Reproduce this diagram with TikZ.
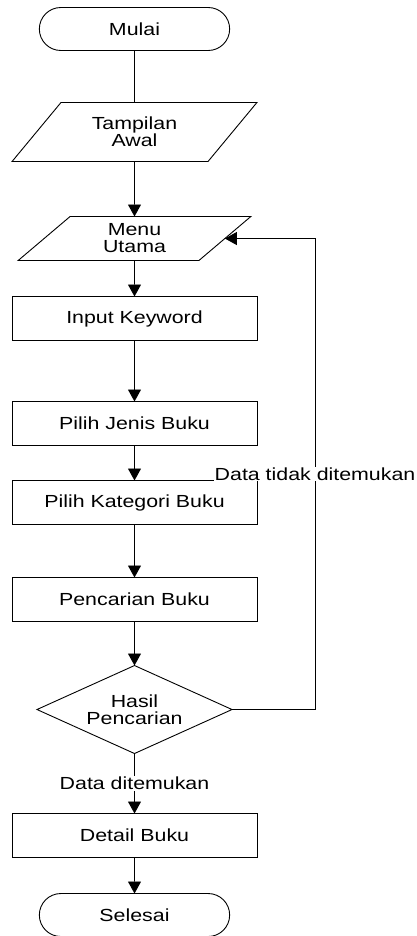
\documentclass[tikz,border=0pt]{standalone}
\usepackage{fontspec}
\setmainfont{Liberation Sans}[FakeStretch=1.22]
\usetikzlibrary{positioning, shapes.geometric, shapes.misc, arrows.meta}

\begin{document}
\begin{tikzpicture}[x=1pt, y=1pt, line width=0.9pt,
    font=\fontsize{17.5}{17}\selectfont,
    prosesbox/.style={rectangle, draw, align=center, outer sep=0pt, minimum width=245pt, minimum height=44pt},
    termbox/.style={rounded rectangle, draw, align=center, outer sep=0pt, minimum width=197pt, minimum height=43pt},
    iobox/.style={trapezium, draw, align=center, outer sep=0pt, trapezium stretches=true},
    decbox/.style={diamond, draw, align=center, outer sep=0pt, aspect=2.2, inner sep=1pt, minimum width=195pt, minimum height=88pt},
    lbl/.style={fill=white, inner sep=1pt},
    arr/.style={-{Triangle[length=12pt,width=13pt]}}]
        \useasboundingbox (0,0) rectangle (417,-936);

        \node[termbox] (mulai) at (134.5,-29) {Mulai};
        \node[below=52pt of mulai, iobox, minimum width=245pt, minimum height=59pt,
              trapezium left angle=50, trapezium right angle=130] (tampilan) {Tampilan\\Awal};
        \node[below=55pt of tampilan, iobox, minimum width=233pt, minimum height=44pt,
              trapezium left angle=52, trapezium right angle=128] (menu) {Menu\\Utama};
        \node[below=36pt of menu, prosesbox] (input) {Input Keyword};
        \node[below=61pt of input, prosesbox] (jenis) {Pilih Jenis Buku};
        \node[below=35pt of jenis, prosesbox] (kategori) {Pilih Kategori Buku};
        \node[below=53pt of kategori, prosesbox] (cari) {Pencarian Buku};
        \node[below=44pt of cari, decbox] (hasil) {Hasil\\Pencarian};
        \node[below=60pt of hasil, prosesbox] (detail) {Detail Buku};
        \node[below=36pt of detail, termbox] (selesai) {Selesai};

        \draw (mulai) -- (tampilan);
        \draw[arr] (tampilan) -- (menu);
        \draw[arr] (menu) -- (input);
        \draw[arr] (input) -- (jenis);
        \draw[arr] (jenis) -- (kategori);
        \draw[arr] (kategori) -- (cari);
        \draw[arr] (cari) -- (hasil);
        \draw[arr] (hasil) -- node[lbl] {Data ditemukan} (detail);
        \draw[arr] (detail) -- (selesai);

        \draw[arr] (hasil.east) -- ++(83,0) |- node[lbl, pos=0.25] {Data tidak ditemukan} (menu.east);
    \end{tikzpicture}
\end{document}
